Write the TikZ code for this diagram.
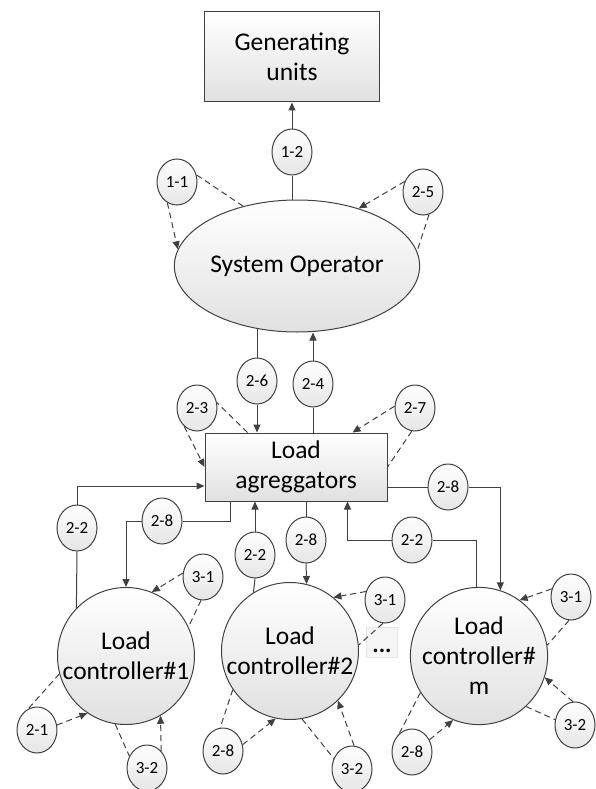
\documentclass[tikz,border=0pt]{standalone}
\usepackage{fontspec}
\setmainfont{Carlito}
\usetikzlibrary{arrows.meta,calc,shapes.geometric,positioning}
\definecolor{lc}{HTML}{404040}

\begin{document}
\begin{tikzpicture}[x=1pt,y=-1pt,
    big/.style={font=\fontsize{25.5}{30}\selectfont, align=center},
    shade/.style={top color=white, bottom color=black!12},
    box/.style={draw=lc, line width=1pt, shade, big, inner sep=0pt},
    ctrl/.style={circle, draw=lc, line width=1pt, shade, big, minimum size=137pt, inner sep=0pt},
    tag/.style={ellipse, draw=lc, line width=1pt, top color=white, bottom color=black!10,
      minimum width=40pt, minimum height=46pt, inner sep=0pt, font=\fontsize{17}{19}\selectfont},
    link/.style={draw=lc, line width=1pt},
    arr/.style={link, -{Triangle[length=8pt,width=7pt]}},
    dsh/.style={link, dash pattern=on 6pt off 4pt},
    darr/.style={dsh, -{Triangle[length=8pt,width=7pt]}}]
  \useasboundingbox (0,0) rectangle (595,789);

  \node[box, minimum width=175pt, minimum height=90pt] (gu) at (292,57) {Generating\\units};
  \node[ellipse, draw=lc, line width=1pt, shade, big, minimum width=240pt, minimum height=132pt, inner sep=0pt]
    (so) at (297,266) {System Operator};
  \node[box, minimum width=182pt, minimum height=68pt] (la) at (296,467) {Load\\agreggators};
  \node[ctrl] (c1) at (126,656) {Load\\controller\#1};
  \node[ctrl] (c2) at (290,651) {Load\\controller\#2};
  \node[ctrl] (cm) at (479,656) {Load\\controller\#\\m};
  \node[draw=black!10, fill=black!4, minimum width=31pt, text height=20pt, text depth=0pt,
    inner xsep=2pt, inner ysep=5pt, font=\fontsize{24}{24}\selectfont\bfseries] (dots) at (382,642) {...};

  \foreach \n/\t/\x/\y in {c12/1-2/292/152, c11/1-1/177/182, c25/2-5/423/192,
      c26/2-6/257/381, c24/2-4/313/384, c23/2-3/197/408, c27/2-7/415/408,
      c22a/2-2/77/528, c28a/2-8/162/521, c22b/2-2/255/555, c28b/2-8/306/540,
      c22c/2-2/412/540, c28c/2-8/448/487,
      c31a/3-1/203/577, c21/2-1/37/730, c32a/3-2/147/768,
      c31b/3-1/385/600, c28d/2-8/223/751, c32b/3-2/352/769,
      c31c/3-1/571/597, c32c/3-2/575/725, c28e/2-8/412/752}
    \node[tag] (\n) at (\x,\y) {\t};

  % system level
  \draw[link] (so.north -| c12) -- (c12.south);
  \draw[arr] (c12.north) -- (gu.south -| c12);
  \draw[dsh] (so.132) -- (c11.20);
  \draw[darr] (c11.245) -- (so.172);
  \draw[darr] (c25.150) -- (so.43);
  \draw[dsh] (c25.285) -- (so.7);
  \draw[link] (c26.north |- so.237) -- (c26.north);
  \draw[arr] (c26.south) -- (c26.south |- la.north);
  \draw[link] (c24.south |- la.north) -- (c24.south);
  \draw[arr] (c24.north) -- (c24.north |- so.south);
  \draw[dsh] ($(la.north west)+(43,0)$) -- (c23.15);
  \draw[darr] (c23.235) -- (la.west);
  \draw[darr] (c27.175) -- ($(la.north east)+(-35,0)$);
  \draw[dsh] (c27.262) -- (la.east);

  % aggregators <-> controllers
  \draw[link] (c1.136) -- (c22a.south);
  \draw[arr] (c22a.north) |- ($(la.west)+(0,19)$);
  \draw[link] ($(la.south west)+(26,0)$) |- (c28a.east);
  \draw[arr] (c28a.west) -| (c1.north);
  \draw[link] (c2.122) -- (c22b.south);
  \draw[arr] (c22b.north) -- (c22b.north |- la.south);
  \draw[link] (c28b.north |- la.south) -- (c28b.north);
  \draw[arr] (c28b.south) -- (c2.76);
  \draw[link] (cm.92) |- (c22c.east);
  \draw[arr] (c22c.west) -| ($(la.south east)+(-40,0)$);
  \draw[link] ($(la.east)+(0,20)$) -- (c28c.west);
  \draw[arr] (c28c.east) -| (cm.72);

  % controller #1
  \draw[darr] (c31a.169) -- (c1.68);
  \draw[dsh] (c31a.265) -- (c1.25);
  \draw[dsh] (c1.195) -- (c21.112);
  \draw[darr] (c21.14) -- (c1.236);
  \draw[dsh] (c1.261) -- (c32a.146);
  \draw[darr] (c32a.50) -- (c1.300);

  % controller #2
  \draw[darr] (c31b.156) -- (c2.51);
  \draw[dsh] (c31b.265) -- (c2.5);
  \draw[dsh] (c2.214) -- (c28d.97);
  \draw[darr] (c28d.18) -- (c2.258);
  \draw[dsh] (c2.280) -- (c32b.150);
  \draw[darr] (c32b.85) -- (c2.314);

  % controller #m
  \draw[darr] (c31c.157) -- (cm.54);
  \draw[dsh] (c31c.265) -- (cm.9);
  \draw[dsh] (cm.313) -- (c32c.165);
  \draw[darr] (c32c.95) -- (cm.342);
  \draw[dsh] (cm.212) -- (c28e.125);
  \draw[darr] (c28e.35) -- (cm.248);
\end{tikzpicture}
\end{document}
